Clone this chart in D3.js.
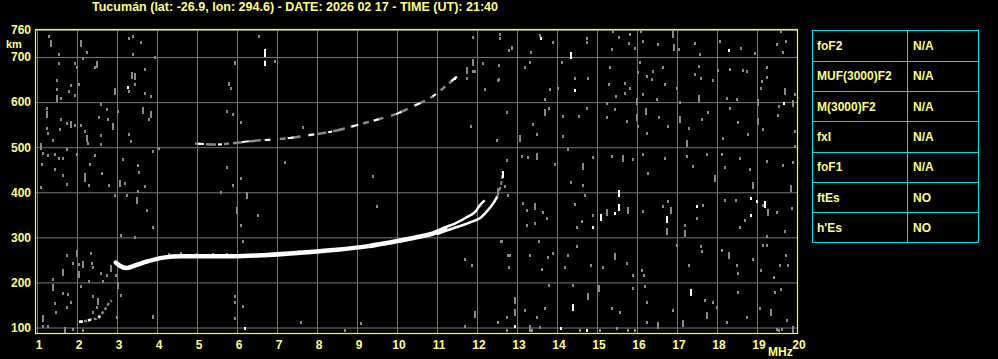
<!DOCTYPE html>
<html><head><meta charset="utf-8">
<script src="https://cdn.jsdelivr.net/npm/d3@7"></script>
<style>html,body{margin:0;padding:0;background:#000;overflow:hidden}</style>
</head><body><svg id="c" width="998" height="359"></svg>
<script>
// ---------------- DATA ----------------
const titleText = "Tucumán (lat: -26.9, lon: 294.6) - DATE: 2026 02 17 - TIME (UT): 21:40";
const xTicks = [1,2,3,4,5,6,7,8,9,10,11,12,13,14,15,16,17,18,19,20];
const yTicks = [100,200,300,400,500,600,700,760];
const xUnit = "MHz";
const yUnit = "km";

const tableParams = ["foF2","MUF(3000)F2","M(3000)F2","fxI","foF1","ftEs","h'Es"];
const tableValues = ["N/A","N/A","N/A","N/A","N/A","NO","NO"];

// main F-layer trace (O-mode), frequency MHz / virtual height km
const mainFreq   = [2.97, 3.07, 3.24, 3.49, 3.74, 4.16, 4.6, 5.08, 5.9, 6.74, 7.58, 8.41, 9.24, 10.08, 10.58, 10.91, 11.2];
const mainHeight = [244, 237, 232, 239, 246, 255, 258, 258, 258, 261, 266, 272, 280, 293, 302, 309, 320];
// upper cusp branch
const branchAFreq   = [11.0, 11.2, 11.46, 11.71, 11.96, 12.08, 12.19];
const branchAHeight = [313, 322, 331, 343, 357, 372, 382];
// lower cusp branch
const branchBFreq   = [11.0, 11.2, 11.54, 11.88, 12.08, 12.24, 12.41, 12.51];
const branchBHeight = [307, 314, 324, 335, 343, 357, 376, 391];
// faint tail near critical frequency
const tailFreq   = [12.51, 12.55, 12.6, 12.64];
const tailHeight = [391, 402, 417, 445];
// second hop trace
const hop2Freq   = [4.95, 5.49, 6.0, 6.41, 7.08, 7.91, 8.49, 9.08, 9.58, 9.99, 10.41, 10.83, 11.16, 11.49, 11.57];
const hop2Height = [508, 506, 510, 514, 518, 528, 537, 551, 563, 574, 591, 609, 631, 656, 661];
// low E-region echo
const eFreq   = [2.05, 2.2, 2.37, 2.5, 2.6, 2.7, 2.81, 2.87];
const eHeight = [113, 114, 118, 120, 128, 140, 155, 160];
// isolated vertical echo segments [freq, hLow, hHigh]
const barSegments = [[6.7, 700, 718], [6.7, 680, 692]];

// scattered interference specks [freq, height]
const noiseDots = [
[12.87,721],[13.34,712],[13.58,749],[13.91,734],[14.74,742],[14.76,733],[15.39,758],[15.37,717],[15.54,745],[15.83,751],[15.81,732],[15.95,721],[16.09,758],[16.16,736],[16.53,729],[17.04,717],[17.45,732],[17.58,706],[18.08,736],[18.59,720],[18.96,710],[19.49,729],[19.64,712],[19.59,758],[19.73,736],
[13.33,690],[13.2,677],[14.12,690],[14.45,654],[14.78,653],[14.03,631],[13.83,628],[13.7,607],[15.33,678],[15.31,640],[15.7,643],[15.83,632],[15.7,621],[16.08,688],[16.03,666],[16.24,658],[16.37,651],[16.39,669],[16.64,677],[16.7,641],[16.99,632],[17.56,680],[17.45,663],[17.6,653],[17.91,649],[18.03,671],[18.33,673],[18.64,671],[18.74,668],[19.12,647],[19.09,631],[19.24,677],[19.24,655],[19.95,617],[19.56,592],[18.51,606],[18.24,610],[17.08,601],[16.49,606],[16.16,617],[15.48,614],[15.24,599],
[12.74,577],[13.39,551],[13.49,529],[13.81,588],[14.16,569],[14.16,525],[14.56,569],[14.74,588],[15.26,567],[15.45,584],[15.74,558],[16.03,547],[16.24,532],[16.56,566],[16.78,547],[17.3,543],[17.62,562],[17.78,577],[18.14,521],[18.33,588],[18.53,557],[18.78,529],[19.16,540],[19.53,572],[19.95,537],
[12.74,471],[13.12,480],[13.28,478],[13.95,462],[14.28,495],[14.91,478],[15.37,480],[15.89,473],[16.16,486],[16.28,443],[16.7,477],[17.24,480],[17.39,458],[17.74,484],[18.12,484],[18.2,455],[18.58,477],[18.83,451],[19.24,469],[19.64,460],[19.95,503],[19.91,468],
[12.7,413],[13.16,376],[13.24,361],[13.66,357],[13.74,344],[13.24,328],[13.45,331],[14.35,423],[14.66,417],[14.7,394],[14.45,374],[14.62,337],[14.51,323],[14.91,350],[16.16,359],[16.64,369],[16.78,380],[17.2,328],[17.49,343],[17.66,372],[18.2,383],[18.48,383],[18.58,324],[18.7,339],[19.16,372],[19.49,357],[19.24,304],[19.7,313],[19.87,365],
[12.62,291],[12.83,261],[12.81,235],[13.33,261],[13.55,293],[13.78,257],[13.91,266],[13.62,230],[14.2,235],[14.51,280],[14.28,261],[14.84,239],[15.14,235],[15.74,243],[15.89,217],[16.12,228],[16.18,217],[16.99,283],[17.3,239],[17.59,280],[17.62,269],[18.12,272],[18.49,239],[18.53,220],[18.91,251],[19.16,283],[19.24,283],[19.1,228],[19.43,213],[19.58,239],[19.73,261],[19.78,239],
[13.81,194],[13.2,139],[13.7,143],[13.49,124],[12.74,124],[13.58,102],[14.41,194],[15.37,143],[15.58,135],[15.91,187],[16.2,191],[16.24,157],[16.24,113],[16.91,139],[17.7,161],[17.91,157],[17.99,146],[18.24,113],[18.53,178],[18.74,124],[19.08,143],[19.45,178],[19.59,186],[19.74,117],[19.49,97],[19.62,97],[19.55,95],[15.78,94],[15.95,94],[15.49,100],[15.08,94],[14.58,94],[13.37,94],[12.74,94],
[1.29,747],[1.54,706],[1.54,686],[1.49,649],[1.49,629],[1.59,610],[1.84,637],[1.8,625],[1.95,686],[1.99,677],[2.05,641],[1.95,615],[2.24,712],[2.16,697],[2.45,677],[3.29,742],[3.39,746],[3.59,733],[3.39,706],[3.45,640],[3.29,625],[3.7,673],[3.7,621],[3.84,614],[3.95,701],[5.96,690],[5.81,642],[5.84,632],[6.54,746],[6.95,692],
[1.24,588],[1.59,562],[1.74,553],[1.95,549],[2.09,549],[1.58,540],[1.24,543],[1.28,532],[1.39,517],[2.2,536],[2.28,510],[2.59,595],[2.74,584],[2.55,566],[2.78,562],[2.59,526],[2.59,508],[3.03,580],[3.31,530],[3.34,514],[3.81,562],[3.91,492],[4.04,499],[5.74,580],[5.89,574],[6.09,557],[7.64,545],
[1.16,488],[1.28,483],[1.45,484],[1.56,477],[1.64,477],[1.74,495],[1.99,486],[2.45,482],[1.12,463],[1.45,451],[1.64,438],[1.74,419],[2.2,441],[2.33,463],[2.62,442],[2.31,417],[3.2,421],[3.14,473],[3.53,460],[3.54,446],[3.7,414],[2.8,417],[1.1,412],[5.74,456],[6.09,432],[5.89,417],[7.2,468],[9.39,437],
[1.74,261],[2.34,266],[1.89,243],[2.06,241],[2.37,243],[2.39,235],[2.59,220],[2.74,217],[2.98,217],[2.31,203],[2.64,203],[1.41,208],[1.66,176],[1.77,174],[2.09,191],[2.41,169],[1.45,154],[1.74,145],[1.85,156],[1.48,135],[1.28,103],[1.15,103],[1.91,97],[2.16,94],[3.09,172],[3.01,124],[3.91,124],[2.41,135],[2.49,146],
[5.95,170],[5.95,157],[6.14,148],[5.95,122],[3.89,126],[7.59,112],[9.09,109],[8.7,94],[11.7,104],[12.53,112],[3.1,172],
[2.95,394],[3.53,402],[3.24,394],[3.74,360],[3.89,324],[3.09,306],[3.45,300],[6.1,328],[6.14,292],[6.53,350],[5.59,400],[7.54,270],[9.49,369],[11.7,252],[11.88,239],[12.59,292],[12.78,394],[12.78,261],[12.81,235],
[5.95,687],[5.81,641],[12.14,686],[11.95,668],[12.2,628],[11.84,548],[12.49,517],[12.53,650],
[11.9,745],[12.58,752],[12.58,742],[12.87,722],[12.81,715],[12.56,683],[11.74,654],[11.91,669],[12.56,652],
[4.3,263],[4.6,265],[5.0,264],[5.4,264],[5.75,264]
];
const noiseDashes = [
[16.91,751],[16.93,723],[19.7,625],[19.91,597],[19.03,601],[17.55,609],[15.99,603],[13.08,521],[13.7,579],[15.99,566],[16.22,580],[17.08,562],[17.24,510],[19.03,558],[13.49,480],[14.66,458],[15.64,475],
[13.45,369],[15.24,357],[15.78,361],[16.84,361],[16.74,313],[17.2,309],[17.95,432],[18.91,417],[19.28,357],[19.84,409],[15.45,259],[18.3,261],[12.95,161],[12.95,135],[13.33,98],[14.78,169],[15.06,187],[16.53,106],[17.14,109],[17.74,128],[19.34,135],[19.91,97],
[1.34,732],[1.49,610],[2.09,732],[2.49,684],[2.95,625],[3.45,658],[1.24,573],[1.84,551],[2.24,521],[2.89,547],[3.64,582],[3.84,573],[1.1,503],[2.2,431],[3.08,421],
[2.16,241],[2.85,232],[1.64,224],[2.06,219],[1.39,189],[2.52,159],[1.14,120],[1.7,94],[3.03,194],[1.99,266],
[11.95,130],[3.49,383],[5.99,361],[6.24,394],[12.53,402],[11.89,688],[11.74,671],[3.37,660]
];
const whiteDots = [[13.59,743],[14.44,626],[18.29,715],[19.68,597],[12.64,435],[15.45,355],[14.9,324],[16.74,346],[17.49,369],[18.84,387],[18.84,350],[18.99,381],[12.95,104],[14.09,98],[14.76,95],[3.28,634],[6.2,98],[11.45,654]];
const whiteDashes = [[14.34,705],[15.55,398],[15.55,367],[15.09,346],[16.74,340],[19.2,374],[17.34,178],[14.39,146],[12.64,440]];

// ---------------- DRAWING ----------------
const FONT = "'Liberation Sans', Arial, Helvetica, sans-serif";
const TXT = "#ffff80", FRAME = "#ffff00", GRID = "#767676", NOISE = "#8a8a8a", CYAN = "#00e0e0";
const svg = d3.select("#c");
svg.append("rect").attr("width",998).attr("height",359).attr("fill","#000");

const L = 35.5, T = 29.5, R = 797.5, B = 333.5;
const x = d3.scaleLinear().domain([1,20]).range([37,797]);
const y = d3.scaleLinear().domain([100,760]).range([327.5,30]);

// title
svg.append("text").attr("x",295).attr("y",11).attr("text-anchor","middle")
  .attr("font-family",FONT).attr("font-weight","bold").attr("font-size",12)
  .attr("fill",TXT).attr("textLength",406).attr("lengthAdjust","spacingAndGlyphs").text(titleText);

// grid
const gx = svg.append("g").attr("transform",`translate(0,${B})`)
  .call(d3.axisBottom(x).tickValues(xTicks).tickSize(-(B-T)).tickFormat(""));
gx.select(".domain").remove();
gx.selectAll("line").attr("stroke",GRID);
const gy = svg.append("g").attr("transform",`translate(${L},0)`)
  .call(d3.axisLeft(y).tickValues(yTicks).tickSize(-(R-L)).tickFormat(""));
gy.select(".domain").remove();
gy.selectAll("line").attr("stroke",GRID);

// plot content clipped
svg.append("clipPath").attr("id","clip").append("rect")
  .attr("x",L+0.5).attr("y",T+0.5).attr("width",R-L-1).attr("height",B-T-1);
const P = svg.append("g").attr("clip-path","url(#clip)");

P.selectAll("rect.nd").data(noiseDots).join("rect").attr("class","nd")
  .attr("x",d=>Math.round(x(d[0]))-1).attr("y",d=>Math.round(y(d[1]))-1)
  .attr("width",2).attr("height",3).attr("fill",NOISE);
P.selectAll("rect.nl").data(noiseDashes).join("rect").attr("class","nl")
  .attr("x",d=>Math.round(x(d[0]))-1).attr("y",d=>Math.round(y(d[1]))-3)
  .attr("width",2).attr("height",7).attr("fill",NOISE);

const line = d3.line().x(d=>x(d[0])).y(d=>y(d[1])).curve(d3.curveMonotoneX);

// second hop: gray band with white fragments
P.append("path").datum(d3.zip(hop2Freq,hop2Height)).attr("d",line)
  .attr("fill","none").attr("stroke",NOISE).attr("stroke-width",2.5)
  .attr("stroke-dasharray","6 5 10 8 5 4 9 7 12 6 4 9");
P.append("path").datum(d3.zip(hop2Freq,hop2Height)).attr("d",line)
  .attr("fill","none").attr("stroke","#fff").attr("stroke-width",2)
  .attr("stroke-dasharray","0 3 6 14 4 20 7 16 5 18 6 12");

// E echo
P.append("path").datum(d3.zip(eFreq,eHeight)).attr("d",line)
  .attr("fill","none").attr("stroke",NOISE).attr("stroke-width",2.5).attr("stroke-dasharray","3 2");
P.append("path").datum(d3.zip(eFreq,eHeight)).attr("d",line)
  .attr("fill","none").attr("stroke","#fff").attr("stroke-width",2.5).attr("stroke-dasharray","4 5 3 8 2 30 3 6");

// main trace
P.append("path").datum(d3.zip(mainFreq,mainHeight)).attr("d",line)
  .attr("fill","none").attr("stroke","#fff").attr("stroke-width",4.5).attr("stroke-linecap","round");
P.append("path").datum(d3.zip(branchAFreq,branchAHeight)).attr("d",line)
  .attr("fill","none").attr("stroke","#fff").attr("stroke-width",2.5);
P.append("path").datum(d3.zip(branchBFreq,branchBHeight)).attr("d",line)
  .attr("fill","none").attr("stroke","#fff").attr("stroke-width",2.5);
P.append("path").datum(d3.zip(tailFreq,tailHeight)).attr("d",line)
  .attr("fill","none").attr("stroke",NOISE).attr("stroke-width",2).attr("stroke-dasharray","4 2");

// white specks
P.selectAll("rect.wd").data(whiteDots).join("rect").attr("class","wd")
  .attr("x",d=>Math.round(x(d[0]))-1).attr("y",d=>Math.round(y(d[1]))-1)
  .attr("width",2).attr("height",3).attr("fill","#fff");
P.selectAll("rect.wl").data(whiteDashes).join("rect").attr("class","wl")
  .attr("x",d=>Math.round(x(d[0]))-1).attr("y",d=>Math.round(y(d[1]))-3)
  .attr("width",2).attr("height",7).attr("fill","#fff");
P.selectAll("rect.bar").data(barSegments).join("rect").attr("class","bar")
  .attr("x",d=>Math.round(x(d[0]))-1).attr("y",d=>y(d[2]))
  .attr("width",2).attr("height",d=>y(d[1])-y(d[2])).attr("fill","#fff");

// frame
svg.append("rect").attr("x",L).attr("y",T).attr("width",R-L).attr("height",B-T)
  .attr("fill","none").attr("stroke",FRAME).attr("stroke-width",1.2);

// axis labels
const ax = svg.append("g").attr("transform",`translate(1.5,${B})`)
  .call(d3.axisBottom(x).tickValues(xTicks).tickSize(0).tickPadding(7).tickFormat(d3.format("d")));
ax.select(".domain").remove();
ax.selectAll("text").attr("fill",TXT).attr("font-family",FONT).attr("font-weight","bold").attr("font-size",12);
const ay = svg.append("g").attr("transform",`translate(36,0)`)
  .call(d3.axisLeft(y).tickValues(yTicks).tickSize(0).tickPadding(5).tickFormat(d3.format("d")));
ay.select(".domain").remove();
ay.selectAll("text").attr("fill",TXT).attr("font-family",FONT).attr("font-weight","bold").attr("font-size",12);

svg.append("text").attr("x",6).attr("y",48).attr("fill",TXT).attr("font-family",FONT)
  .attr("font-weight","bold").attr("font-size",11).text(yUnit);
svg.append("text").attr("x",768).attr("y",356).attr("fill",TXT).attr("font-family",FONT)
  .attr("font-weight","bold").attr("font-size",12).text(xUnit);

// parameter table
const tx0 = 812.5, tx1 = 907.5, tx2 = 978.5;
const rows = d3.scaleBand().domain(tableParams).range([30.5, 242.5]);
const tg = svg.append("g");
tg.append("rect").attr("x",tx0).attr("y",30.5).attr("width",tx2-tx0).attr("height",212)
  .attr("fill","none").attr("stroke",CYAN).attr("stroke-width",1);
tg.append("line").attr("x1",tx1).attr("x2",tx1).attr("y1",30.5).attr("y2",242.5)
  .attr("stroke",CYAN).attr("stroke-width",1);
tg.selectAll("line.r").data(tableParams.slice(1)).join("line").attr("class","r")
  .attr("x1",tx0).attr("x2",tx2).attr("y1",d=>Math.round(rows(d))+0.5).attr("y2",d=>Math.round(rows(d))+0.5)
  .attr("stroke",CYAN).attr("stroke-width",1);
tg.selectAll("text.p").data(tableParams).join("text").attr("class","p")
  .attr("x",817).attr("y",d=>rows(d)+rows.bandwidth()/2+4.5)
  .attr("fill",TXT).attr("font-family",FONT).attr("font-weight","bold").attr("font-size",12).text(d=>d);
tg.selectAll("text.v").data(tableValues).join("text").attr("class","v")
  .attr("x",913).attr("y",(d,i)=>rows(tableParams[i])+rows.bandwidth()/2+4.5)
  .attr("fill",TXT).attr("font-family",FONT).attr("font-weight","bold").attr("font-size",12).text(d=>d);
</script>
</body></html>
